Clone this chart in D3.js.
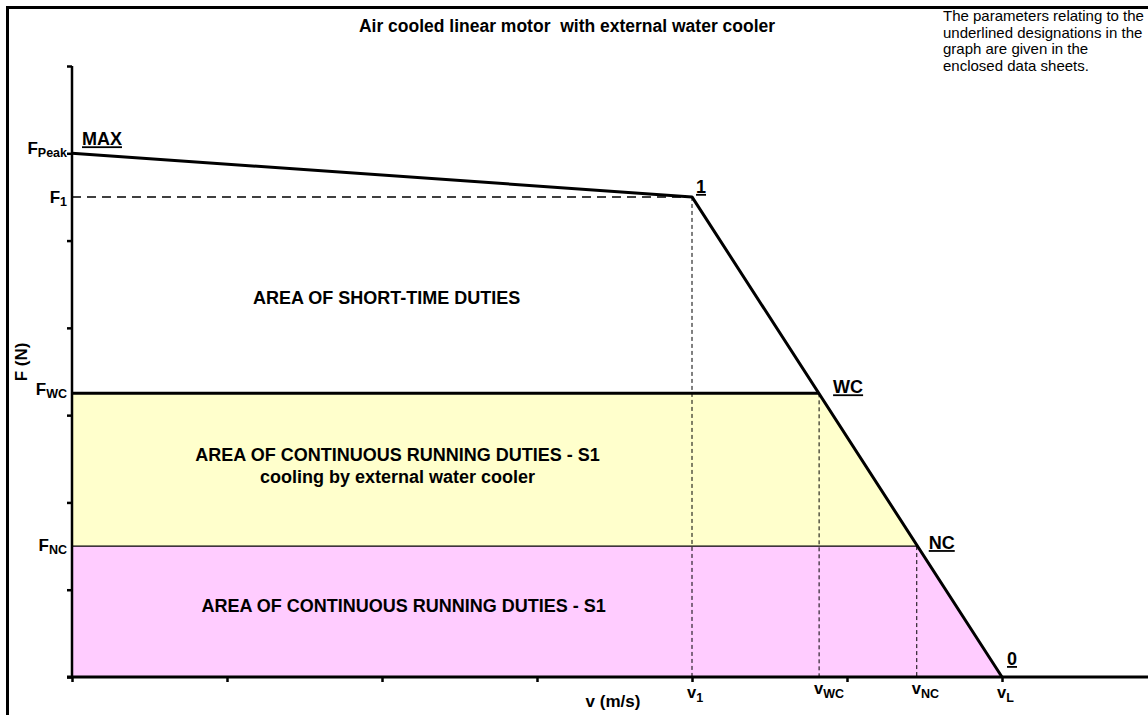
<!DOCTYPE html>
<html>
<head>
<meta charset="utf-8">
<script src="https://cdn.jsdelivr.net/npm/d3@7"></script>
<style>
  body { margin: 0; background: #fff; }
  svg text { font-family: "Liberation Sans", Arial, sans-serif; fill: #000; white-space: pre; }
</style>
</head>
<body>
<div id="chart"></div>
<script>
// characteristic curve: MAX -> 1 -> 0
var curveV = [0, 4, 6];
var curveF = [6, 5.5, 0];

// force levels on the y axis
var levelMain = ["F", "F", "F", "F"];
var levelSub = ["Peak", "1", "WC", "NC"];
var levelF = [6, 5.5, 3.25, 1.5];

// speeds on the x axis
var speedMain = ["v", "v", "v", "v"];
var speedSub = ["1", "WC", "NC", "L"];
var speedV = [4, 4.82, 5.45, 6];

// underlined point names
var pointNames = ["MAX", "1", "WC", "NC", "0"];
var pointV = [0, 4, 4.82, 5.45, 6];
var pointF = [6, 5.5, 3.25, 1.5, 0];

var xTicks = [0, 1, 2, 3, 4, 5, 6];
var yTicks = [0, 1, 2, 3, 4, 5, 6, 7];

var title = "Air cooled linear motor  with external water cooler";
var note = ["The parameters relating to the", "underlined designations in the", "graph are given in the", "enclosed data sheets."];
var areaShort = ["AREA OF SHORT-TIME DUTIES"];
var areaWater = ["AREA OF CONTINUOUS RUNNING DUTIES - S1", "cooling by external water cooler"];
var areaS1 = ["AREA OF CONTINUOUS RUNNING DUTIES - S1"];

var width = 1148, height = 715;

var svg = d3.select("#chart").append("svg")
    .attr("width", width)
    .attr("height", height);

var x = d3.scaleLinear().domain([0, 6]).range([72, 1002]);
var y = d3.scaleLinear().domain([0, 7]).range([677, 66]);

// frame (cut by the page on right and bottom)
svg.append("rect")
    .attr("x", 7.5).attr("y", 7.5)
    .attr("width", 1300).attr("height", 900)
    .attr("fill", "none")
    .attr("stroke", "#000")
    .attr("stroke-width", 3);

// filled areas
var yellowPts = [[0, levelF[3]], [0, levelF[2]], [speedV[1], levelF[2]], [speedV[2], levelF[3]]];
var pinkPts = [[0, 0], [0, levelF[3]], [speedV[2], levelF[3]], [speedV[3], 0]];

var poly = d3.line().x(function(d){ return x(d[0]); }).y(function(d){ return y(d[1]); });

svg.append("path").attr("d", poly(yellowPts) + "Z").attr("fill", "#ffffcc");
svg.append("path").attr("d", poly(pinkPts) + "Z").attr("fill", "#ffccff");

// F_NC thin line
svg.append("line")
    .attr("x1", x(0)).attr("x2", x(speedV[2]))
    .attr("y1", y(levelF[3])).attr("y2", y(levelF[3]))
    .attr("stroke", "#000").attr("stroke-width", 1.2);

// F_WC thick line
svg.append("line")
    .attr("x1", x(0)).attr("x2", x(speedV[1]))
    .attr("y1", y(levelF[2])).attr("y2", y(levelF[2]))
    .attr("stroke", "#000").attr("stroke-width", 3);

// F1 dashed line
svg.append("line")
    .attr("x1", x(0)).attr("x2", x(curveV[1]))
    .attr("y1", y(levelF[1])).attr("y2", y(levelF[1]))
    .attr("stroke", "#000").attr("stroke-width", 1.6)
    .attr("stroke-dasharray", "9,6");

// vertical dashed drop lines
svg.selectAll("line.drop")
    .data([0, 1, 2])
    .enter().append("line")
    .attr("class", "drop")
    .attr("x1", function(i){ return x(speedV[i]); })
    .attr("x2", function(i){ return x(speedV[i]); })
    .attr("y1", function(i){ return y(pointF[i + 1]); })
    .attr("y2", y(0))
    .attr("stroke", "#000").attr("stroke-width", 1)
    .attr("stroke-dasharray", "4,3");

// characteristic curve
var curve = curveV.map(function(v, i){ return [v, curveF[i]]; });
svg.append("path")
    .attr("d", poly(curve))
    .attr("fill", "none")
    .attr("stroke", "#000")
    .attr("stroke-width", 3)
    .attr("stroke-linejoin", "round");

// axes
var yAxis = svg.append("g")
    .attr("transform", "translate(" + x(0) + ",0)")
    .call(d3.axisLeft(y).tickValues(yTicks).tickSize(5).tickFormat(""));
yAxis.select(".domain").remove();
yAxis.selectAll(".tick line").attr("stroke-width", 2.5);

svg.append("line")
    .attr("x1", x(0)).attr("x2", x(0))
    .attr("y1", y(7)).attr("y2", y(0) + 1)
    .attr("stroke", "#000").attr("stroke-width", 2.5);

var xAxis = svg.append("g")
    .attr("transform", "translate(0," + y(0) + ")")
    .call(d3.axisBottom(x).tickValues(xTicks).tickSize(5).tickFormat(""));
xAxis.select(".domain").remove();
xAxis.selectAll(".tick line").attr("stroke-width", 2.5);

svg.append("line")
    .attr("x1", x(0) - 5).attr("x2", width)
    .attr("y1", y(0)).attr("y2", y(0))
    .attr("stroke", "#000").attr("stroke-width", 3);

// y level labels (F + subscript), right aligned at the axis
var levelDy = [1, 6, 2, 5];
levelF.forEach(function(f, i){
    var t = svg.append("text")
        .attr("x", x(0) - 5)
        .attr("y", y(f) + levelDy[i])
        .attr("text-anchor", "end")
        .style("font-weight", "bold");
    t.append("tspan").style("font-size", "17px").text(levelMain[i]);
    t.append("tspan").style("font-size", "12.5px").attr("dy", 3).text(levelSub[i]);
});

// x speed labels, "v" centred on the tick
var speedDy = [21, 17, 17, 21];
speedV.forEach(function(v, i){
    var t = svg.append("text")
        .attr("x", x(v) - 5)
        .attr("y", y(0) + speedDy[i])
        .style("font-weight", "bold");
    t.append("tspan").style("font-size", "16.5px").text(speedMain[i]);
    t.append("tspan").style("font-size", "12.5px").attr("dy", 4).text(speedSub[i]);
});

// point names, underlined
var nameOffset = [[10, -8], [4, -4], [14, 0], [12, 3], [5, -12]];
pointNames.forEach(function(n, i){
    svg.append("text")
        .attr("x", x(pointV[i]) + nameOffset[i][0])
        .attr("y", y(pointF[i]) + nameOffset[i][1])
        .style("font-size", "18px")
        .style("font-weight", "bold")
        .style("text-decoration", "underline")
        .text(n);
});

// axis titles
svg.append("text")
    .attr("x", 613).attr("y", 707)
    .attr("text-anchor", "middle")
    .style("font-size", "17px")
    .style("font-weight", "bold")
    .text("v (m/s)");

svg.append("text")
    .attr("transform", "translate(27,362) rotate(-90)")
    .attr("text-anchor", "middle")
    .style("font-size", "17px")
    .style("font-weight", "bold")
    .text("F (N)");

// area captions
function caption(lines, v, f){
    lines.forEach(function(s, i){
        svg.append("text")
            .attr("x", x(v))
            .attr("y", y(f) + i * 22)
            .attr("text-anchor", "middle")
            .style("font-size", "18px")
            .style("font-weight", "bold")
            .text(s);
    });
}
caption(areaShort, 2.03, 4.27);
caption(areaWater, 2.1, 2.47);
caption(areaS1, 2.14, 0.75);

// title
svg.append("text")
    .attr("x", 567).attr("y", 32)
    .attr("text-anchor", "middle")
    .style("font-size", "17.5px")
    .style("font-weight", "bold")
    .text(title);

// note top right
note.forEach(function(s, i){
    svg.append("text")
        .attr("x", 943)
        .attr("y", 21 + i * 16.5)
        .style("font-size", "15px")
        .text(s);
});
</script>
</body>
</html>
